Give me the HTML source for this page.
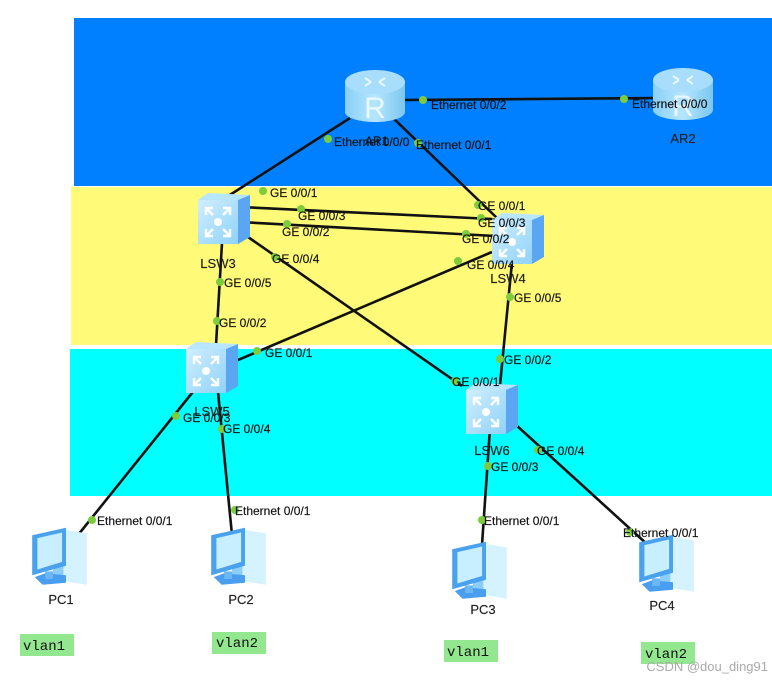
<!DOCTYPE html>
<html><head><meta charset="utf-8"><style>
html,body{margin:0;padding:0;background:#fff;}
svg{display:block;font-family:"Liberation Sans",Arial,sans-serif;}
.l{stroke:#111;stroke-width:2.6;fill:none}
.t{font-size:12px;fill:#111;stroke:#111;stroke-width:0.15}
.n{font-size:13px;fill:#222;stroke:#222;stroke-width:0.15}
.d{fill:#7ccc3c}
</style></head><body>
<svg width="772" height="687" viewBox="0 0 772 687" xmlns="http://www.w3.org/2000/svg">
<defs>
<linearGradient id="sw" x1="0" y1="0" x2="1" y2="1"><stop offset="0" stop-color="#cfeeff"/><stop offset="1" stop-color="#8fd3f8"/></linearGradient>
<linearGradient id="rt" x1="0" y1="0" x2="1" y2="0"><stop offset="0" stop-color="#8ad0f5"/><stop offset=".5" stop-color="#b6e6ff"/><stop offset="1" stop-color="#7cc6f0"/></linearGradient>
<g id="S">
<polygon points="0,7 10,0 52,2 40,7" fill="#b8e6ff"/>
<polygon points="40,7 52,2 52,44 40,51" fill="#5aa6f2"/>
<rect x="0" y="7" width="40" height="44" fill="url(#sw)"/>
<circle cx="20" cy="29" r="4" fill="#fff"/>
<g stroke="#fff" stroke-width="2.4" fill="none">
<path d="M8,15 L15,22 M8,22 L8,15 L15,15"/>
<path d="M32,15 L25,22 M25,15 L32,15 L32,22"/>
<path d="M8,43 L15,36 M8,36 L8,43 L15,43"/>
<path d="M32,43 L25,36 M25,43 L32,43 L32,36"/>
</g>
</g>
<g id="R">
<rect x="0" y="12" width="60" height="30" fill="url(#rt)"/>
<ellipse cx="30" cy="42" rx="30" ry="10" fill="url(#rt)"/>
<ellipse cx="30" cy="12" rx="30" ry="12" fill="#a8defc"/>
<g stroke="#e6f7ff" stroke-width="2" fill="none"><path d="M20,8 L26,12 M40,8 L34,12 M20,16 L26,12 M40,16 L34,12"/></g>
<text x="30" y="48" font-size="30" fill="#eaf8ff" text-anchor="middle" font-family="Liberation Sans,sans-serif">R</text>
</g>
<g id="P">
<polygon points="28,8 46,12 46,66 28,62" fill="#d4f2ff"/>
<polygon points="20,10 28,8 28,62 20,64" fill="#8bcff8"/>
<polygon points="4,14 30,6 30,46 4,56" fill="#4aa2ee"/>
<polygon points="8,17 27,11 27,42 8,50" fill="#c8efff"/>
<polygon points="6,58 14,54 30,56 30,64 12,66" fill="#4a9ef0"/>
<rect x="14" y="52" width="6" height="8" fill="#6bb7f4"/>
</g>
</defs>
<rect x="74" y="18" width="698" height="168" fill="#0080ff"/>
<rect x="71" y="187" width="701" height="158" fill="#fffa78"/>
<rect x="70" y="349" width="702" height="147" fill="#00ffff"/>

<g class="l">
<line x1="350" y1="118" x2="222" y2="200"/>
<line x1="393" y1="118" x2="497" y2="218"/>
<line x1="403" y1="100" x2="655" y2="98"/>
<line x1="240" y1="207" x2="492" y2="219"/>
<line x1="240" y1="222" x2="495" y2="236"/>
<line x1="248" y1="237" x2="462" y2="386"/>
<line x1="492" y1="252" x2="238" y2="360"/>
<line x1="222" y1="243" x2="216" y2="345"/>
<line x1="512" y1="262" x2="500" y2="385"/>
<line x1="196" y1="388" x2="70" y2="545"/>
<line x1="218" y1="392" x2="232" y2="535"/>
<line x1="490" y1="428" x2="482" y2="545"/>
<line x1="516" y1="425" x2="648" y2="545"/>
</g>

<use href="#R" x="345" y="70"/>
<use href="#R" x="653" y="68"/>
<use href="#S" x="198" y="193"/>
<use href="#S" x="492" y="213"/>
<use href="#S" x="186" y="342"/>
<use href="#S" x="466" y="383"/>
<use href="#P" transform="translate(27,522) scale(1.3,0.95)"/>
<use href="#P" transform="translate(206,522) scale(1.3,0.95)"/>
<use href="#P" transform="translate(447,536) scale(1.3,0.95)"/>
<use href="#P" transform="translate(634,529) scale(1.3,0.95)"/>

<g class="d">
<circle cx="328" cy="139" r="4"/><circle cx="418" cy="143" r="4"/><circle cx="423" cy="100" r="4"/><circle cx="624" cy="99" r="4"/>
<circle cx="263" cy="191" r="4"/><circle cx="478" cy="205" r="4"/>
<circle cx="301" cy="209" r="4"/><circle cx="481" cy="218" r="4"/>
<circle cx="287" cy="224" r="4"/><circle cx="466" cy="234" r="4"/>
<circle cx="275" cy="257" r="4"/><circle cx="458" cy="261" r="4"/>
<circle cx="220" cy="282" r="4"/><circle cx="510" cy="297" r="4"/>
<circle cx="217" cy="321" r="4"/><circle cx="257" cy="351" r="4"/>
<circle cx="500" cy="359" r="4"/><circle cx="455" cy="381" r="4"/>
<circle cx="176" cy="416" r="4"/><circle cx="222" cy="429" r="4"/>
<circle cx="538" cy="450" r="4"/><circle cx="488" cy="466" r="4"/>
<circle cx="92" cy="520" r="4"/><circle cx="235" cy="510" r="4"/>
<circle cx="482" cy="520" r="4"/><circle cx="630" cy="532" r="4"/>
</g>

<g class="t">
<text x="334" y="146">Ethernet 0/0/0</text>
<text x="365" y="145">AR1</text>
<text x="416" y="149">Ethernet 0/0/1</text>
<text x="431" y="109">Ethernet 0/0/2</text>
<text x="632" y="108">Ethernet 0/0/0</text>
<text x="270" y="197">GE 0/0/1</text>
<text x="298" y="220">GE 0/0/3</text>
<text x="282" y="236">GE 0/0/2</text>
<text x="272" y="263">GE 0/0/4</text>
<text x="224" y="287">GE 0/0/5</text>
<text x="219" y="327">GE 0/0/2</text>
<text x="478" y="210">GE 0/0/1</text>
<text x="478" y="227">GE 0/0/3</text>
<text x="462" y="243">GE 0/0/2</text>
<text x="467" y="269">GE 0/0/4</text>
<text x="514" y="302">GE 0/0/5</text>
<text x="265" y="357">GE 0/0/1</text>
<text x="504" y="364">GE 0/0/2</text>
<text x="452" y="386">GE 0/0/1</text>
<text x="183" y="422">GE 0/0/3</text>
<text x="223" y="433">GE 0/0/4</text>
<text x="537" y="455">GE 0/0/4</text>
<text x="491" y="471">GE 0/0/3</text>
<text x="97" y="525">Ethernet 0/0/1</text>
<text x="235" y="515">Ethernet 0/0/1</text>
<text x="484" y="525">Ethernet 0/0/1</text>
<text x="623" y="537">Ethernet 0/0/1</text>
</g>
<g class="n" text-anchor="middle">
<text x="683" y="143">AR2</text>
<text x="218" y="268">LSW3</text>
<text x="508" y="283">LSW4</text>
<text x="212" y="416">LSW5</text>
<text x="492" y="455">LSW6</text>
<text x="61" y="604">PC1</text>
<text x="241" y="604">PC2</text>
<text x="483" y="614">PC3</text>
<text x="662" y="610">PC4</text>
</g>
<g font-family="Liberation Mono,monospace" font-size="14" fill="#111">
<rect x="20" y="634" width="54" height="22" fill="#93e88f"/><text x="23" y="650">vlan1</text>
<rect x="212" y="632" width="54" height="22" fill="#93e88f"/><text x="216" y="647">vlan2</text>
<rect x="444" y="640" width="54" height="22" fill="#93e88f"/><text x="447" y="656">vlan1</text>
<rect x="641" y="642" width="54" height="22" fill="#93e88f"/><text x="645" y="658">vlan2</text>
</g>
<text x="768" y="671" text-anchor="end" font-size="13" fill="#aaa">CSDN @dou_ding91</text>
</svg>
</body></html>
